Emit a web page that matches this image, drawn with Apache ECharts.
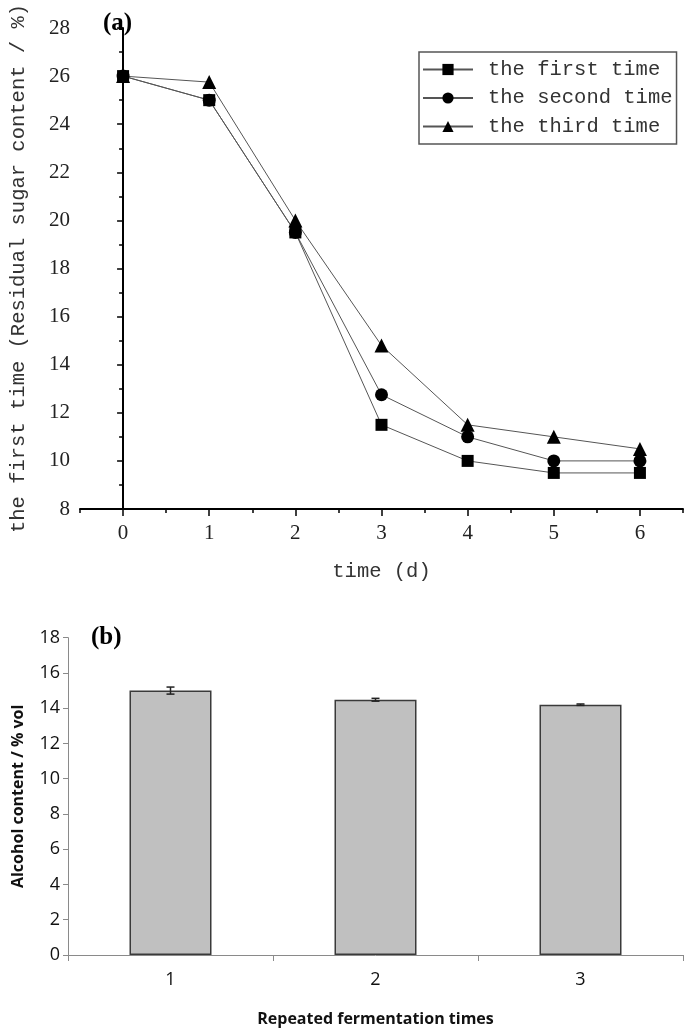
<!DOCTYPE html>
<html><head><meta charset="utf-8">
<script src="https://cdn.jsdelivr.net/npm/echarts@6/dist/echarts.min.js"></script>
<style>html,body{margin:0;padding:0;background:#fff}#c{width:685px;height:1028px}</style>
</head><body><div id="c"></div>
<script>
// ---- data (a) ----
const days = [0, 1, 2, 3, 4, 5, 6];
const firstTime  = [26, 25, 19.5, 11.5, 10, 9.5, 9.5];
const secondTime = [26, 25, 19.5, 12.75, 11, 10, 10];
const thirdTime  = [26, 25.75, 20, 14.8, 11.5, 11, 10.5];
const seriesNames = ['the first time', 'the second time', 'the third time'];
const yTicksA = [8, 10, 12, 14, 16, 18, 20, 22, 24, 26, 28];
// ---- data (b) ----
const repeats = ['1', '2', '3'];
const alcohol = [15.0, 14.48, 14.2];
const alcoholErr = [0.2, 0.08, 0.04];
const yTicksB = [0, 2, 4, 6, 8, 10, 12, 14, 16, 18];

const pair = (xs, ys) => xs.map((x, i) => [x, ys[i]]);
const serif = 'Liberation Serif';
const mono = 'Liberation Mono';
const sans = 'Open Sans';

const chart = echarts.init(document.getElementById('c'), null, {renderer: 'canvas'});
const lineCommon = {
  type: 'line', xAxisIndex: 0, yAxisIndex: 0,
  lineStyle: {color: '#555', width: 1},
  itemStyle: {color: '#000'},
  emphasis: {disabled: true}, animation: false
};
chart.setOption({
  animation: false,
  title: [
    {text: '(a)', left: 98, top: 6, textStyle: {fontFamily: serif, fontWeight: 'bold', fontSize: 25, color: '#000'}},
    {text: '(b)', left: 86, top: 620, textStyle: {fontFamily: serif, fontWeight: 'bold', fontSize: 25, color: '#000'}}
  ],
  legend: {
    data: seriesNames, orient: 'vertical', left: 419, top: 52,
    itemWidth: 50, itemHeight: 14, itemGap: 7.5,
    padding: [7, 4, 7, 3],
    borderColor: '#555', borderWidth: 1.5,
    textStyle: {fontFamily: mono, fontSize: 20.5, color: '#333', lineHeight: 20, padding: [0, 0, 0, 10]}
  },
  grid: [
    {left: 80, top: 28, width: 603, height: 481, outerBoundsMode: 'none', containLabel: false},
    {left: 68, top: 637.7, width: 615, height: 317.3, outerBoundsMode: 'none', containLabel: false}
  ],
  xAxis: [
    {type: 'value', gridIndex: 0, min: -0.5, max: 6.5, interval: 0.5,
     name: 'time (d)', nameLocation: 'middle', nameGap: 52,
     nameTextStyle: {fontFamily: mono, fontSize: 20.5, color: '#333'},
     axisLine: {lineStyle: {color: '#000', width: 2}},
     axisTick: {inside: false, length: 4, lineStyle: {color: '#000', width: 1.5}},
     axisLabel: {fontFamily: serif, fontSize: 21, color: '#222', margin: 14,
       formatter: v => (Number.isInteger(v) && v >= 0 && v <= 6) ? String(v) : ''},
     splitLine: {show: false}},
    {type: 'value', gridIndex: 0, min: -0.5, max: 6.5, position: 'bottom',
     axisLine: {show: false},
     axisTick: {show: true, length: 7, customValues: days, lineStyle: {color: '#000', width: 1.5}},
     axisLabel: {show: false}, splitLine: {show: false}},
    {type: 'category', gridIndex: 1, data: repeats, boundaryGap: true,
     name: 'Repeated fermentation times', nameLocation: 'middle', nameGap: 56,
     nameTextStyle: {fontFamily: sans, fontWeight: 'bold', fontSize: 16, color: '#111'},
     axisLine: {lineStyle: {color: '#8a8a8a', width: 1}},
     axisTick: {show: true, alignWithLabel: false, length: 6, lineStyle: {color: '#8a8a8a'}},
     axisLabel: {fontFamily: sans, fontSize: 18, color: '#111', margin: 16}}
  ],
  yAxis: [
    {type: 'value', gridIndex: 0, min: 8, max: 28, interval: 2,
     name: 'the first time (Residual sugar content / %)', nameLocation: 'middle', nameGap: 51,
     nameTextStyle: {fontFamily: mono, fontSize: 20.5, color: '#333'},
     axisLine: {show: true, lineStyle: {color: '#000', width: 2}},
     axisTick: {show: true, length: 6, lineStyle: {color: '#000', width: 1.5}},
     minorTick: {show: true, splitNumber: 2, length: 4, lineStyle: {color: '#000', width: 1.5}},
     axisLabel: {fontFamily: serif, fontSize: 21, color: '#222', margin: 10,
       customValues: yTicksA},
     splitLine: {show: false}},
    {type: 'value', gridIndex: 1, min: 0, max: 18, interval: 2,
     name: 'Alcohol content / % vol', nameLocation: 'middle', nameGap: 42,
     nameTextStyle: {fontFamily: sans, fontWeight: 'bold', fontSize: 16, color: '#111'},
     axisLine: {show: true, lineStyle: {color: '#8a8a8a', width: 1}},
     axisTick: {show: true, length: 5, lineStyle: {color: '#8a8a8a'}},
     axisLabel: {fontFamily: sans, fontSize: 18, color: '#111', margin: 8, customValues: yTicksB},
     splitLine: {show: false}}
  ],
  series: [
    Object.assign({}, lineCommon, {name: seriesNames[0], data: pair(days, firstTime), symbol: 'rect', symbolSize: 12}),
    Object.assign({}, lineCommon, {name: seriesNames[1], data: pair(days, secondTime), symbol: 'circle', symbolSize: 13}),
    Object.assign({}, lineCommon, {name: seriesNames[2], data: pair(days, thirdTime), symbol: 'triangle', symbolSize: 14}),
    {type: 'bar', xAxisIndex: 2, yAxisIndex: 1, data: alcohol, barWidth: '40%',
     itemStyle: {color: '#c0c0c0', borderColor: '#3a3a3a', borderWidth: 1.5},
     emphasis: {disabled: true}},
    {type: 'custom', xAxisIndex: 2, yAxisIndex: 1,
     data: alcohol.map((v, i) => [i, v, alcoholErr[i]]),
     encode: {x: 0, y: 1},
     renderItem: function (params, api) {
       const i = api.value(0), v = api.value(1), e = api.value(2);
       const t = api.coord([i, v + e]);
       const b = api.coord([i, v - e]);
       const h = 4;
       const st = {stroke: '#222', lineWidth: 1.5};
       return {type: 'group', children: [
         {type: 'line', shape: {x1: t[0], y1: t[1], x2: b[0], y2: b[1]}, style: st},
         {type: 'line', shape: {x1: t[0] - h, y1: t[1], x2: t[0] + h, y2: t[1]}, style: st},
         {type: 'line', shape: {x1: b[0] - h, y1: b[1], x2: b[0] + h, y2: b[1]}, style: st}
       ]};
     }, z: 5}
  ]
});
</script></body></html>
